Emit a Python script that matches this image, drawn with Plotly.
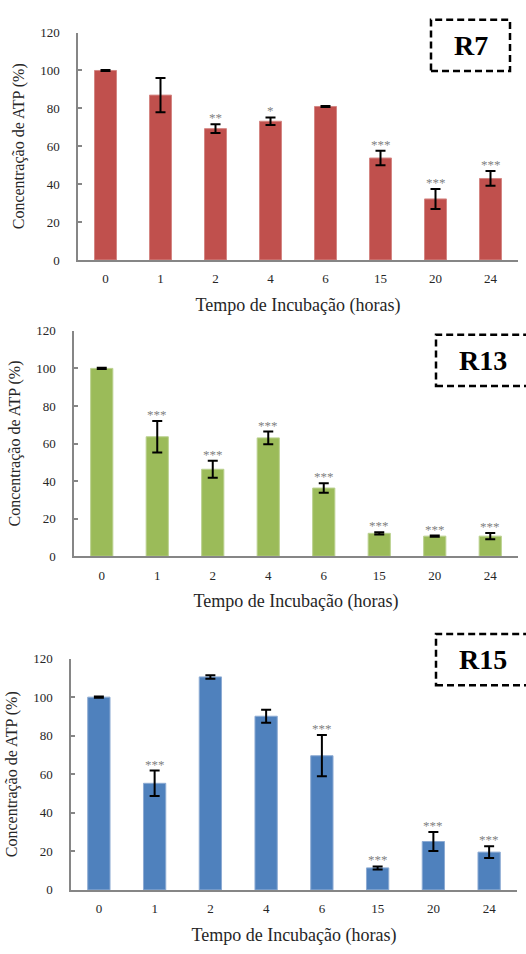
import plotly.graph_objects as go

# Incubation times (hours) shared by all three panels
hours = ["0", "1", "2", "4", "6", "15", "20", "24"]

# R7: ATP concentration (%), standard deviation and significance marks
r7_atp = [100, 87, 69.3, 73.2, 81, 53.8, 32.2, 43]
r7_err = [0.3, 9, 2.3, 2, 0.3, 3.8, 5.3, 3.9]
r7_sig = ["", "", "**", "*", "", "***", "***", "***"]

# R13
r13_atp = [100, 63.6, 46.3, 63, 36.3, 12.2, 10.7, 10.7]
r13_err = [0.3, 8.4, 4.5, 3.4, 2.5, 0.6, 0.3, 1.7]
r13_sig = ["", "***", "***", "***", "***", "***", "***", "***"]

# R15
r15_atp = [100, 55.3, 110.5, 90.1, 69.6, 11.4, 25.1, 19.6]
r15_err = [0.3, 6.6, 0.9, 3.4, 10.7, 0.8, 4.9, 3]
r15_sig = ["", "***", "", "", "***", "***", "***", "***"]

W, H = 526, 954
SERIF = "Liberation Serif"
TXT = "#262626"

panels = [
    # name, values, errors, marks, colour, outline, plot box (left, right, top, bottom px), label box
    ("R7", r7_atp, r7_err, r7_sig, "#C0504D", "#D48683", (78, 518, 26, 257), (431, 510, 13, 65)),
    ("R13", r13_atp, r13_err, r13_sig, "#9BBB59", "#BBD190", (74, 518, 329, 558), (436, 540, 333, 385)),
    ("R15", r15_atp, r15_err, r15_sig, "#4F81BD", "#8DABD3", (71, 517, 662, 897), (436, 540, 637, 689)),
]

fig = go.Figure()
annotations = []
shapes = []

for i, (name, vals, errs, sig, color, edge, (l, r, t, b), (bx0, bx1, by0, by1)) in enumerate(panels):
    suffix = "" if i == 0 else str(i + 1)
    xa, ya = "x" + suffix, "y" + suffix
    fig.add_trace(go.Bar(
        x=hours, y=vals, xaxis=xa, yaxis=ya,
        marker=dict(color=color, line=dict(color=edge, width=1)),
        error_y=dict(type="data", array=errs, visible=True,
                     color="black", thickness=2, width=5),
        showlegend=False, hoverinfo="x+y",
    ))
    axis_x = dict(
        domain=[l / W, r / W], anchor=ya, type="category",
        range=[-0.5, len(hours) - 0.5],
        showline=True, linecolor="#868686", linewidth=1.5,
        ticks="", showgrid=False, zeroline=False,
        tickfont=dict(family=SERIF, size=13, color=TXT),
        ticklabelstandoff=6,
        title=dict(text="Tempo de Incubação (horas)", standoff=13,
                   font=dict(family=SERIF, size=18, color=TXT)),
    )
    axis_y = dict(
        domain=[1 - b / H, 1 - t / H], anchor=xa,
        range=[0, 120], dtick=20, tick0=0,
        showline=True, linecolor="#868686", linewidth=1.5,
        ticks="inside", ticklen=4, tickcolor="#868686", tickwidth=1.5,
        showgrid=False, zeroline=False,
        tickfont=dict(family=SERIF, size=13, color=TXT),
        ticklabelstandoff=14,
        title=dict(text="Concentração de ATP (%)", standoff=12,
                   font=dict(family=SERIF, size=16, color=TXT)),
    )
    fig.update_layout(**{"xaxis" + suffix: axis_x, "yaxis" + suffix: axis_y})

    # significance asterisks above each error bar (category index as x)
    for k, (v, e, s) in enumerate(zip(vals, errs, sig)):
        if s:
            annotations.append(dict(
                x=k, y=v + e, xref=xa, yref=ya, text=s, showarrow=False,
                xanchor="center", yanchor="bottom", yshift=-3,
                font=dict(family=SERIF, size=13, color="#7F7F7F"),
            ))

    # dashed label box with the strain name
    shapes.append(dict(
        type="rect", xref="paper", yref="paper",
        x0=bx0 / W, x1=bx1 / W, y0=1 - by1 / H, y1=1 - by0 / H,
        line=dict(color="black", width=2.5, dash="7px,4px"),
    ))
    label_x = (bx0 + bx1) / 2 if name == "R7" else 483
    annotations.append(dict(
        x=label_x / W, y=1 - (by0 + by1) / 2 / H, xref="paper", yref="paper",
        text="<b>%s</b>" % name, showarrow=False,
        xanchor="center", yanchor="middle",
        font=dict(family=SERIF, size=28, color="black"),
    ))

fig.update_layout(
    width=W, height=H,
    margin=dict(l=0, r=0, t=0, b=0),
    font=dict(family=SERIF, color=TXT),
    paper_bgcolor="white", plot_bgcolor="white",
    bargap=0.6,
    annotations=annotations, shapes=shapes,
)

fig.write_html("out.html")
